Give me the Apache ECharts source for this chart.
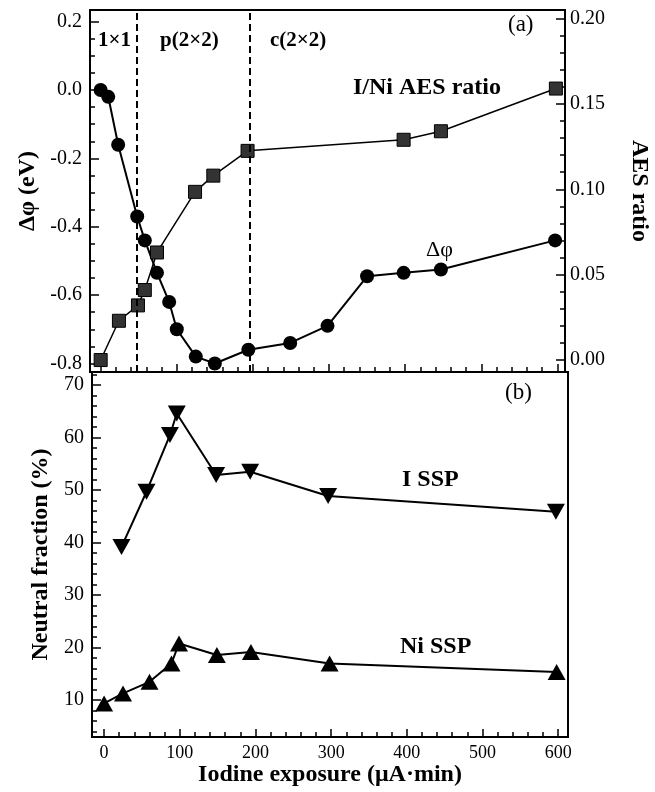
<!DOCTYPE html>
<html>
<head>
<meta charset="utf-8">
<script src="https://cdn.jsdelivr.net/npm/echarts@6/dist/echarts.min.js"></script>
<style>
html,body{margin:0;padding:0;background:#fff;}
#chart{width:655px;height:792px;}
</style>
</head>
<body>
<div id="chart"></div>
<script>
// ---- data ----
const dphiX = [0, 10, 23, 48, 58, 74, 90, 100, 125, 150, 194, 249, 298, 350, 398, 447, 597];
const dphiY = [0, -0.02, -0.16, -0.37, -0.44, -0.535, -0.62, -0.70, -0.78, -0.80, -0.76, -0.74, -0.69, -0.545, -0.535, -0.525, -0.44];
const aesX = [0, 24, 49, 58, 74, 124, 148, 193, 398, 447, 598];
const aesY = [0.0, 0.023, 0.032, 0.041, 0.063, 0.0985, 0.108, 0.1225, 0.129, 0.134, 0.159];
const iSspX = [23, 56, 87, 96, 148, 193, 296, 597];
const iSspY = [39.2, 49.7, 60.5, 64.6, 52.9, 53.5, 48.9, 45.9];
const niSspX = [0, 25, 60, 89, 99, 149, 194, 298, 598];
const niSspY = [9.4, 11.3, 13.5, 17.0, 20.8, 18.6, 19.2, 17.0, 15.4];
const phaseBounds = [47, 196];
const xTicks = [0, 100, 200, 300, 400, 500, 600];
const dphiTicks = [-0.8, -0.6, -0.4, -0.2, 0.0, 0.2];
const aesTicks = [0.00, 0.05, 0.10, 0.15, 0.20];
const nfTicks = [10, 20, 30, 40, 50, 60, 70];

// ---- helpers ----
const zip = (a, b) => a.map((v, i) => [v, b[i]]);
function minorVals(from, to, step, majors) {
  const out = [];
  const n = Math.round((to - from) / step);
  for (let i = 0; i <= n; i++) {
    const v = +(from + i * step).toFixed(6);
    if (!majors.some(m => Math.abs(m - v) < 1e-9)) out.push(v);
  }
  return out;
}
const FONT = '"Liberation Serif", "DejaVu Serif", serif';
const black = '#000';

function xAx(grid, min, max, major, labels, extra) {
  return Object.assign({
    type: 'value', gridIndex: grid, min: min, max: max, position: 'bottom',
    axisLine: {show: major, onZero: false, lineStyle: {color: black, width: 2}},
    axisTick: {show: true, inside: true, length: major ? 8 : 5,
      lineStyle: {color: black, width: 1.5},
      customValues: major ? xTicks : minorVals(0, 600, 20, xTicks)},
    axisLabel: labels ? {show: true, customValues: xTicks, fontFamily: FONT, fontSize: 18, color: black, margin: 7} : {show: false},
    splitLine: {show: false}
  }, extra || {});
}
function yAx(grid, pos, min, max, ticks, fmt, lblSize, extra) {
  return Object.assign({
    type: 'value', gridIndex: grid, min: min, max: max, position: pos,
    axisLine: {show: !!fmt, onZero: false, lineStyle: {color: black, width: 2}},
    axisTick: {show: true, inside: true, length: fmt ? 9 : 5,
      lineStyle: {color: black, width: 1.5}, customValues: ticks},
    axisLabel: fmt ? {show: true, customValues: ticks, formatter: fmt, fontFamily: FONT,
      fontSize: lblSize, color: black, margin: pos === 'right' ? 5 : 8} : {show: false},
    splitLine: {show: false}
  }, extra || {});
}

const chart = echarts.init(document.getElementById('chart'), null, {renderer: 'canvas'});

const titleStyle = {fontFamily: FONT, fontSize: 24, fontWeight: 'bold', color: black};

const option = {
  animation: false,
  backgroundColor: '#fff',
  grid: [
    {left: 90, top: 10, width: 475, height: 362, show: true, borderColor: black, borderWidth: 2,
     backgroundColor: 'transparent', containLabel: false, outerBoundsMode: 'none'},
    {left: 92, top: 372, width: 476, height: 365, show: true, borderColor: black, borderWidth: 2,
     backgroundColor: 'transparent', containLabel: false, outerBoundsMode: 'none'}
  ],
  xAxis: [
    xAx(0, -14, 610, true, false),
    xAx(0, -14, 610, false, false),
    xAx(1, -16, 613, true, true, {
      name: 'Iodine exposure (μA·min)', nameLocation: 'middle', nameGap: 26,
      nameTextStyle: titleStyle
    }),
    xAx(1, -16, 613, false, false)
  ],
  yAxis: [
    yAx(0, 'left', -0.825, 0.234, dphiTicks, v => v.toFixed(1), 20, {
      name: 'Δφ (eV)', nameLocation: 'middle', nameGap: 50, nameTextStyle: titleStyle
    }),
    yAx(0, 'left', -0.825, 0.234, minorVals(-0.8, 0.2, 0.05, dphiTicks), null, 20),
    yAx(0, 'right', -0.007, 0.205, aesTicks, v => v.toFixed(2), 20, {
      name: 'AES ratio', nameLocation: 'middle', nameGap: 62, nameRotate: -90, nameTextStyle: titleStyle
    }),
    yAx(0, 'right', -0.007, 0.205, minorVals(0, 0.2, 0.01, aesTicks), null, 20),
    yAx(1, 'left', 3, 72.5, nfTicks, v => String(v), 20, {
      name: 'Neutral fraction (%)', nameLocation: 'middle', nameGap: 30, nameTextStyle: titleStyle
    }),
    yAx(1, 'left', 3, 72.5, minorVals(4, 72, 2, nfTicks), null, 20)
  ],
  series: [
    {
      name: 'dphi', type: 'line', xAxisIndex: 0, yAxisIndex: 0,
      data: zip(dphiX, dphiY), symbol: 'circle', symbolSize: 14,
      itemStyle: {color: black}, lineStyle: {color: black, width: 2}, z: 3,
      markLine: {
        silent: true, symbol: ['none', 'none'], label: {show: false},
        lineStyle: {color: black, width: 2, type: [7, 4]},
        data: phaseBounds.map(v => ({xAxis: v}))
      }
    },
    {
      name: 'aes', type: 'line', xAxisIndex: 0, yAxisIndex: 2,
      data: zip(aesX, aesY), symbol: 'rect', symbolSize: 13,
      itemStyle: {color: '#333', borderColor: '#000', borderWidth: 1},
      lineStyle: {color: black, width: 1.5}, z: 4
    },
    {
      name: 'I SSP', type: 'line', xAxisIndex: 2, yAxisIndex: 4,
      data: zip(iSspX, iSspY), symbol: 'triangle', symbolRotate: 180, symbolSize: [18, 16],
      itemStyle: {color: black}, lineStyle: {color: black, width: 2}
    },
    {
      name: 'Ni SSP', type: 'line', xAxisIndex: 2, yAxisIndex: 4,
      data: zip(niSspX, niSspY), symbol: 'triangle', symbolSize: [18, 16],
      itemStyle: {color: black}, lineStyle: {color: black, width: 2}
    }
  ],
  graphic: [
    {t: '1×1', x: 98, y: 41, b: true, s: 21},
    {t: 'p(2×2)', x: 160, y: 41, b: true, s: 21},
    {t: 'c(2×2)', x: 270, y: 41, b: true, s: 21},
    {t: '(a)', x: 508, y: 25, b: false, s: 23},
    {t: 'I/Ni AES ratio', x: 353, y: 88, b: true, s: 24},
    {t: 'Δφ', x: 426, y: 250, b: false, s: 22},
    {t: '(b)', x: 505, y: 393, b: false, s: 23},
    {t: 'I SSP', x: 402, y: 480, b: true, s: 24},
    {t: 'Ni SSP', x: 400, y: 647, b: true, s: 24}
  ].map(o => ({
    type: 'text', x: o.x, y: o.y, z: 100,
    style: {
      text: o.t, fill: black,
      font: (o.b ? 'bold ' : '') + o.s + 'px ' + FONT,
      align: 'left', verticalAlign: 'middle',
      textAlign: 'left', textVerticalAlign: 'middle'
    }
  }))
};
chart.setOption(option);
</script>
</body>
</html>
